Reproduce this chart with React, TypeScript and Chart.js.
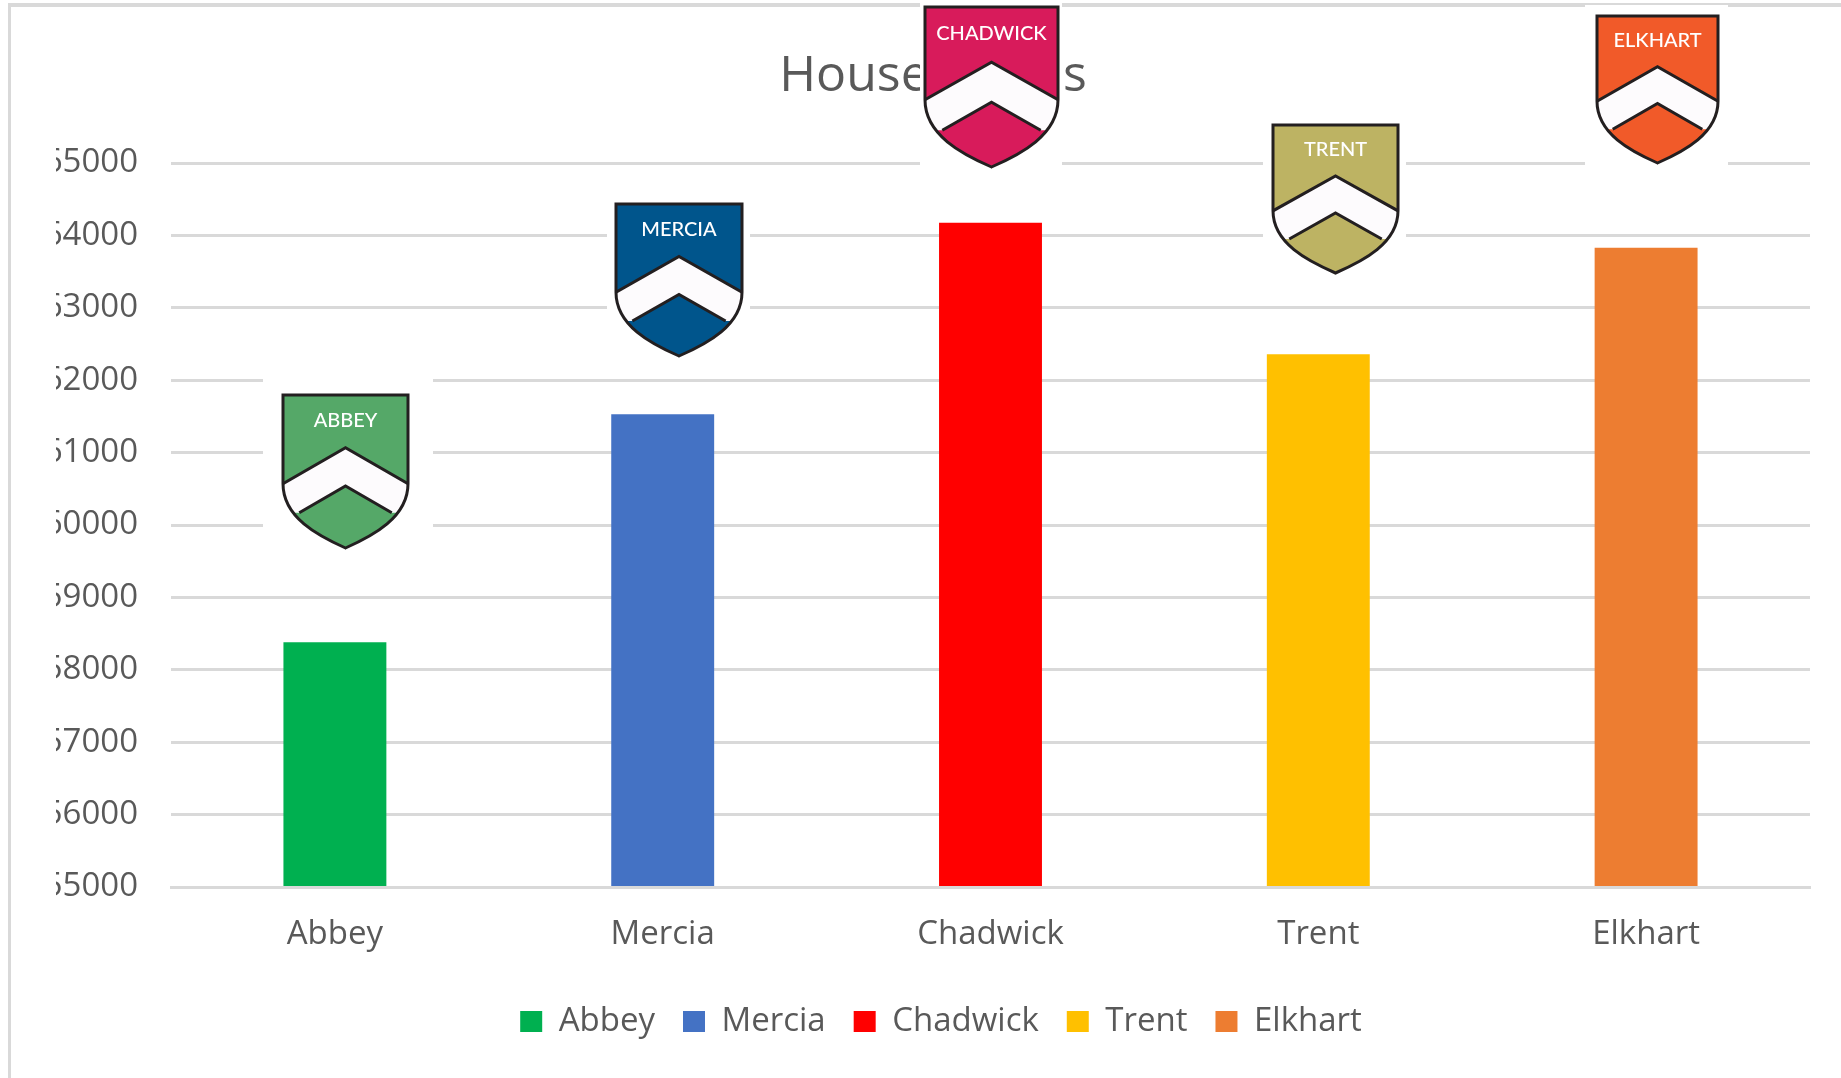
import React, { useEffect, useRef } from "react";
import { Chart, registerables } from "chart.js";

Chart.register(...registerables);

const categories = ["Abbey", "Mercia", "Chadwick", "Trent", "Elkhart"];
const houseValues = [58380, 61530, 64175, 62360, 63830];
const barColors = ["#00B050", "#4472C4", "#FF0000", "#FFC000", "#ED7D31"];
const crestLabels = ["ABBEY", "MERCIA", "CHADWICK", "TRENT", "ELKHART"];
const crestColors = ["#55A868", "#00558C", "#D81B5B", "#BDB363", "#F15A29"];

// Decorative crests pasted over the chart: [left, top, width, height] and the white box behind each
const crestBoxes = [
  [283, 395, 125, 153],
  [616, 204, 126, 152],
  [925, 7, 133, 160],
  [1273, 125, 125, 148],
  [1597, 16, 121, 147],
];
const crestMasks = [
  [263, 365, 170, 205],
  [607, 190, 143, 175],
  [920, 0, 142, 200],
  [1263, 115, 143, 165],
  [1585, 5, 143, 195],
];

const FONT = "'Open Sans', sans-serif";
const TEXT = "#595959";
const GRID = "#D9D9D9";

const crestPlugin = {
  id: "crests",
  beforeDraw(chart: any) {
    const { ctx } = chart;
    ctx.save();
    ctx.fillStyle = "#fff";
    ctx.fillRect(0, 0, chart.width, chart.height);
    ctx.fillStyle = GRID;
    ctx.fillRect(8, 3, chart.width - 8, 4);
    ctx.fillRect(8, 3, 3, chart.height - 3);
    ctx.restore();
  },
  afterLayout(chart: any) {
    chart.legend.left += 8;
    chart.legend.right += 8;
  },
  afterDatasetsDraw(chart: any) {
    const { ctx } = chart;
    ctx.save();
    crestMasks.forEach(([x, y, w, h]) => {
      ctx.fillStyle = "#fff";
      ctx.fillRect(x, y, w, h);
    });
    crestBoxes.forEach(([x, y, w, h], i) => {
      const px = (u: number) => x + u * w;
      const py = (v: number) => y + v * h;
      const outline = () => {
        ctx.beginPath();
        ctx.moveTo(px(0), py(0));
        ctx.lineTo(px(1), py(0));
        ctx.lineTo(px(1), py(0.58));
        ctx.bezierCurveTo(px(1), py(0.8), px(0.72), py(0.92), px(0.5), py(1));
        ctx.bezierCurveTo(px(0.28), py(0.92), px(0), py(0.8), px(0), py(0.58));
        ctx.closePath();
      };
      outline();
      ctx.fillStyle = crestColors[i];
      ctx.fill();
      // chevron
      ctx.save();
      outline();
      ctx.clip();
      ctx.beginPath();
      ctx.moveTo(px(-0.01), py(0.58));
      ctx.lineTo(px(0.5), py(0.345));
      ctx.lineTo(px(1.01), py(0.58));
      ctx.lineTo(px(1.01), py(0.77));
      ctx.lineTo(px(0.87), py(0.77));
      ctx.lineTo(px(0.5), py(0.595));
      ctx.lineTo(px(0.13), py(0.77));
      ctx.lineTo(px(-0.01), py(0.77));
      ctx.closePath();
      ctx.fillStyle = "#FDFBFD";
      ctx.fill();
      ctx.strokeStyle = "#231F20";
      ctx.lineWidth = 3;
      ctx.lineJoin = "miter";
      ctx.beginPath();
      ctx.moveTo(px(0), py(0.58));
      ctx.lineTo(px(0.5), py(0.345));
      ctx.lineTo(px(1), py(0.58));
      ctx.moveTo(px(0.13), py(0.77));
      ctx.lineTo(px(0.5), py(0.595));
      ctx.lineTo(px(0.87), py(0.77));
      ctx.stroke();
      ctx.restore();
      outline();
      ctx.strokeStyle = "#231F20";
      ctx.lineWidth = 3;
      ctx.stroke();
      ctx.fillStyle = "#fff";
      ctx.font = "500 20px Lato, sans-serif";
      ctx.textAlign = "center";
      ctx.textBaseline = "middle";
      ctx.fillText(crestLabels[i], px(0.5), py(0.165));
    });
    ctx.restore();
  },
};

export default function App() {
  const ref = useRef<HTMLCanvasElement>(null);
  useEffect(() => {
    document.body.style.margin = "0";
    const chart = new Chart(ref.current!, {
      type: "bar",
      data: {
        labels: categories,
        datasets: [
          {
            label: "House Points",
            data: houseValues,
            backgroundColor: barColors,
            barPercentage: 0.314,
            categoryPercentage: 1,
          },
        ],
      },
      options: {
        responsive: false,
        animation: false,
        layout: { padding: { left: 56, right: 31, top: 0, bottom: 30 } },
        plugins: {
          title: {
            display: true,
            text: "House Points",
            color: TEXT,
            font: { family: FONT, size: 50, weight: "normal" },
            padding: { top: 47, bottom: 56 },
          },
          legend: {
            position: "bottom",
            labels: {
              color: TEXT,
              font: { family: FONT, size: 33 },
              boxWidth: 22,
              boxHeight: 21,
              padding: 28,
              generateLabels: () =>
                categories.map((text, i) => ({
                  text,
                  fillStyle: barColors[i],
                  strokeStyle: barColors[i],
                  lineWidth: 0,
                  fontColor: TEXT,
                  hidden: false,
                  index: i,
                })),
            },
          },
          tooltip: { enabled: false },
        },
        scales: {
          x: {
            grid: { display: false },
            border: { display: true, color: GRID, width: 3, z: 1 },
            ticks: {
              color: TEXT,
              font: { family: FONT, size: 33 },
              padding: 20,
              maxRotation: 0,
            },
            afterFit(scale: any) {
              scale.height = 90;
            },
          },
          y: {
            min: 55000,
            max: 65000,
            grid: { color: GRID, lineWidth: 3, drawTicks: false },
            border: { display: false },
            ticks: {
              stepSize: 1000,
              color: TEXT,
              font: { family: FONT, size: 33 },
              padding: 33,
              callback: (v: any) => String(v),
            },
            afterFit(scale: any) {
              scale.width = 115;
            },
          },
        },
      },
      plugins: [crestPlugin],
    } as any);
    return () => chart.destroy();
  }, []);
  return <canvas ref={ref} width={1841} height={1078} style={{ display: "block" }} />;
}
